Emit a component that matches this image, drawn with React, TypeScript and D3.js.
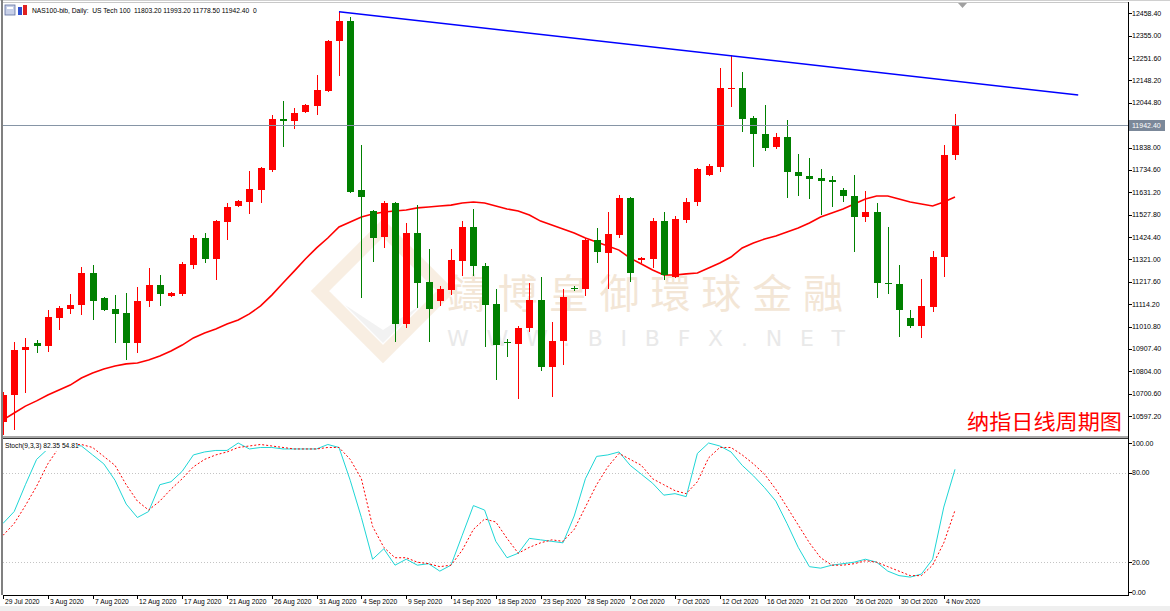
import React from "react";
import * as d3 from "d3";

// daily bars, 29 Jul 2020 .. 5 Nov 2020 (broker has Sunday bars)
const opens = [
  10569, 10694, 10902, 10935, 10921, 11050, 11092, 11110, 11258, 11143,
  11092, 11073, 10935, 11129, 11203, 11152, 11161, 11295, 11420, 11323,
  11494, 11568, 11586, 11642, 11734, 11970, 11961, 12002, 12030, 12099,
  12330, 12423, 11642, 11545, 11425, 11582, 11022, 11443, 11217, 11129,
  11180, 11314, 11471, 11290, 11115, 10939, 10930, 11004, 11133, 10824,
  10944, 11189, 11184, 11411, 11350, 11434, 11605, 11318, 11323, 11498,
  11240, 11503, 11586, 11711, 11748, 12109, 12113, 11975, 11901, 11841,
  11887, 11725, 11706, 11697, 11688, 11642, 11614, 11517, 11540, 11212,
  11207, 11050, 11013, 11101, 11332, 11803.2,
];
const highs = [
  10708, 10939, 10958, 10948, 11087, 11106, 11161, 11286, 11295, 11147,
  11156, 11166, 11193, 11281, 11249, 11170, 11309, 11434, 11443, 11503,
  11582, 11596, 11730, 11748, 11988, 12053, 12021, 12039, 12173, 12335,
  12466, 12441, 11850, 11549, 11591, 11586, 11489, 11572, 11369, 11198,
  11369, 11498, 11554, 11304, 11184, 10953, 11013, 11212, 11240, 11032,
  11184, 11198, 11420, 11466, 11540, 11619, 11609, 11332, 11512, 11540,
  11522, 11605, 11743, 11762, 12206, 12266, 12187, 11984, 12035, 11905,
  11965, 11808, 11789, 11739, 11706, 11651, 11711, 11637, 11582, 11471,
  11295, 11087, 11230, 11360, 11850, 11993.2,
];
const lows = [
  10509, 10532, 10703, 10888, 10893, 10995, 11069, 11064, 11041, 11082,
  10935, 10856, 10888, 11101, 11106, 11147, 11152, 11277, 11304, 11226,
  11411, 11563, 11531, 11582, 11725, 11841, 11924, 11998, 11988, 12095,
  12169, 11628, 11143, 11309, 11374, 10939, 11004, 11096, 10939, 11106,
  11156, 11244, 11244, 10916, 10764, 10870, 10676, 10985, 10805, 10685,
  10833, 11175, 11152, 11304, 11184, 11420, 11217, 11304, 11281, 11226,
  11235, 11489, 11568, 11706, 11725, 12025, 11910, 11748, 11822, 11831,
  11605, 11614, 11600, 11526, 11563, 11586, 11355, 11494, 11143, 11161,
  10962, 11004, 10958, 11078, 11240, 11778.5,
];
const closes = [
  10694, 10902, 10916, 10921, 11055, 11096, 11110, 11258, 11129, 11087,
  11069, 10935, 11129, 11203, 11161, 11166, 11300, 11420, 11323, 11498,
  11563, 11591, 11647, 11743, 11970, 11961, 11998, 12035, 12104, 12330,
  12423, 11633, 11609, 11420, 11582, 11022, 11443, 11212, 11092, 11184,
  11318, 11471, 11290, 11110, 10925, 10935, 11004, 11133, 10824, 10944,
  11147, 11184, 11411, 11355, 11438, 11605, 11258, 11327, 11498, 11249,
  11508, 11586, 11739, 11753, 12113, 12113, 11970, 11901, 11836, 11887,
  11725, 11706, 11693, 11683, 11679, 11614, 11517, 11540, 11212, 11207,
  11087, 11013, 11106, 11332, 11803, 11942.4,
];
const movingAvg = [
  10579, 10611, 10643, 10667, 10694, 10717, 10740, 10773, 10796, 10814,
  10828, 10838, 10842, 10856, 10875, 10898, 10925, 10958, 10981, 10999,
  11022, 11041, 11069, 11106, 11156, 11212, 11267, 11323, 11374, 11420,
  11471, 11494, 11517, 11531, 11540, 11545, 11549, 11559, 11563, 11568,
  11572, 11582, 11586, 11582, 11568, 11554, 11545, 11526, 11498, 11480,
  11462, 11443, 11420, 11401, 11383, 11364, 11327, 11300, 11272, 11249,
  11249, 11254, 11258, 11281, 11304, 11332, 11374, 11397, 11415, 11429,
  11448, 11466, 11489, 11517, 11535, 11554, 11577, 11600, 11614, 11614,
  11600, 11586, 11577, 11568, 11586, 11609,
];
const stochK = [
  46, 54, 72, 89, 96, 99, 99, 98, 92, 86,
  75, 59, 50, 54, 72, 74, 81, 92, 94, 95,
  95, 100, 96, 97, 97, 96, 96, 96, 96, 99,
  97, 75, 50, 22, 29, 18, 22, 18, 19, 14,
  18, 38, 58, 55, 34, 23, 26, 36, 35, 34,
  33, 51, 76, 91, 92, 94, 85, 79, 73, 65,
  66, 64, 93, 100, 98, 94, 85, 78, 70, 61,
  46, 30, 17, 16, 18, 19, 20, 22, 20, 14,
  11, 10, 12, 22, 57, 82.35,
];
const stochD = [
  38, 46, 58, 71, 86, 97, 99, 99, 97, 91,
  85, 72, 61, 55, 61, 69, 76, 84, 89, 92,
  94, 97, 98, 99, 98, 97, 96, 96, 96, 97,
  97, 89, 76, 44, 30, 23, 23, 20, 19, 17,
  18, 28, 42, 49, 47, 36, 26, 30, 33, 35,
  34, 42, 57, 72, 84, 93, 89, 85, 76, 72,
  68, 66, 74, 90, 97, 97, 92, 86, 79, 69,
  57, 45, 33, 23, 18, 18, 19, 21, 20, 17,
  14, 11, 11, 18, 33, 54.81,
];

// every 4th bar gets a date label
const dateLabels = [
  "29 Jul 2020", "3 Aug 2020", "7 Aug 2020", "12 Aug 2020", "17 Aug 2020",
  "21 Aug 2020", "26 Aug 2020", "31 Aug 2020", "4 Sep 2020", "9 Sep 2020",
  "14 Sep 2020", "18 Sep 2020", "23 Sep 2020", "28 Sep 2020", "2 Oct 2020",
  "7 Oct 2020", "12 Oct 2020", "16 Oct 2020", "21 Oct 2020", "26 Oct 2020",
  "30 Oct 2020", "4 Nov 2020",
];
const priceTicks = [
  12458.4, 12355.0, 12251.6, 12148.2, 12044.8, 11838.0, 11734.6, 11631.2,
  11527.8, 11424.4, 11321.0, 11217.6, 11114.2, 11010.8, 10907.4, 10804.0,
  10700.6, 10597.2,
];
const stochTicks = [100, 80, 20, 0];
const stochLevels = [80, 20];
// trend line anchors: [bar index, price]
const trendLine: [number, number][] = [
  [30, 12466],
  [96, 12081],
];
const lastPrice = 11942.4;
const header =
  "NAS100-bib, Daily:  US Tech 100  11803.20 11993.20 11778.50 11942.40  0";
const stochTitle = "Stoch(9,3,3) 82.35 54.81";
const caption = "纳指日线周期图";

const W = 1170;
const H = 611;
const plotL = 3;
const plotR = 1128;
const mainTop = 3;
const mainBottom = 436;
const subTop = 440;
const subBottom = 595;

const font = "'Liberation Sans', Arial, sans-serif";

export default function App() {
  const x = d3.scaleLinear().domain([0, 85]).range([3, 955]);
  const y = d3.scaleLinear().domain([10597.2, 12458.4]).range([416, 13.3]);
  const ys = d3.scaleLinear().domain([0, 100]).range([592, 443]);

  const maLine = d3
    .line<number>()
    .x((_, i) => x(i))
    .y((d) => y(d));
  const kLine = d3
    .line<number>()
    .x((_, i) => x(i))
    .y((d) => ys(d));

  const candles = opens.map((o, i) => ({
    o,
    h: highs[i],
    l: lows[i],
    c: closes[i],
  }));

  return (
    <svg
      width={W}
      height={H}
      style={{ position: "absolute", left: 0, top: 0, background: "#fff" }}
      fontFamily={font}
    >
      <defs>
        <clipPath id="mainClip">
          <rect x={plotL} y={mainTop} width={plotR - plotL} height={mainBottom - mainTop} />
        </clipPath>
        <clipPath id="subClip">
          <rect x={plotL} y={subTop} width={plotR - plotL} height={subBottom - subTop} />
        </clipPath>
      </defs>
      <rect x={0} y={0} width={W} height={H} fill="#fff" />
      <rect x={0} y={606} width={W} height={5} fill="#efefef" />

      {/* watermark */}
      <g clipPath="url(#mainClip)">
        <polygon
          points="383,228 446,291 383,354 320,291"
          fill="none"
          stroke="#f8eee2"
          strokeWidth={13}
        />
        <polygon points="345,305 383,343 421,305 383,330" fill="#f2f2f2" />
        <text
          x={447}
          y={308}
          fontSize={40}
          fill="#f3e6d6"
          fontFamily="'Noto Sans CJK TC', sans-serif"
          textLength={396}
          lengthAdjust="spacing"
        >
          鑄博皇御環球金融
        </text>
        <text
          x={447}
          y={346}
          fontSize={22}
          fill="#e9e9e9"
          fontFamily="'DejaVu Sans', sans-serif"
          textLength={398}
          lengthAdjust="spacing"
        >
          WWW.BIBFX.NET
        </text>
      </g>

      {/* main panel */}
      <g clipPath="url(#mainClip)">
        <path d={maLine(movingAvg) ?? ""} fill="none" stroke="#ff0000" strokeWidth={1.6} />
        {candles.map((d, i) => {
          const cx = Math.round(x(i));
          const up = d.c >= d.o;
          const col = up ? "#ff0000" : "#008000";
          const top = Math.round(y(Math.max(d.o, d.c)));
          const bot = Math.round(y(Math.min(d.o, d.c)));
          return (
            <g key={i} shapeRendering="crispEdges">
              <line
                x1={cx + 0.5}
                x2={cx + 0.5}
                y1={Math.round(y(d.h))}
                y2={Math.round(y(d.l))}
                stroke={col}
              />
              <rect x={cx - 3} y={top} width={7} height={Math.max(1, bot - top)} fill={col} />
            </g>
          );
        })}
        <line
          x1={x(trendLine[0][0])}
          y1={y(trendLine[0][1])}
          x2={x(trendLine[1][0])}
          y2={y(trendLine[1][1])}
          stroke="#0000ff"
          strokeWidth={1.5}
        />
        <line
          x1={plotL}
          x2={plotR}
          y1={Math.round(y(lastPrice)) + 0.5}
          y2={Math.round(y(lastPrice)) + 0.5}
          stroke="#8695a6"
          shapeRendering="crispEdges"
        />
      </g>

      {/* header */}
      <rect x={5} y={5} width={10} height={10} fill="#c8d0e8" stroke="#6070a0" strokeWidth={0.8} />
      <rect x={7} y={7} width={6} height={2} fill="#fff" />
      <rect x={18} y={7} width={4} height={8} fill="#3050d0" />
      <rect x={23} y={5} width={4} height={10} fill="#e02020" />
      <text x={32} y={13} fontSize={6.7} fill="#000" style={{ whiteSpace: "pre" }}>
        {header}
      </text>

      {/* chart shift marker */}
      <polygon points="958,3 967,3 962.5,8" fill="#a0a0a0" />

      {/* caption */}
      <text
        x={967}
        y={429}
        fontSize={21}
        fill="#ff0000"
        fontFamily="'Noto Sans CJK SC', sans-serif"
        textLength={155}
        lengthAdjust="spacingAndGlyphs"
      >
        {caption}
      </text>

      {/* stochastic panel */}
      <g clipPath="url(#subClip)">
        {stochLevels.map((v) => (
          <line
            key={v}
            x1={plotL}
            x2={plotR}
            y1={Math.round(ys(v)) + 0.5}
            y2={Math.round(ys(v)) + 0.5}
            stroke="#c4c4c4"
            strokeDasharray="1,2"
            shapeRendering="crispEdges"
          />
        ))}
        <path d={kLine(stochK) ?? ""} fill="none" stroke="#1fd6d6" strokeWidth={1} />
        <path
          d={kLine(stochD) ?? ""}
          fill="none"
          stroke="#ff0000"
          strokeWidth={1}
          strokeDasharray="2,2"
        />
        <rect x={plotL} y={441} width={75} height={10} fill="#fff" />
        <text x={5} y={448} fontSize={6.7} fill="#000">
          {stochTitle}
        </text>
      </g>

      {/* frame */}
      <g shapeRendering="crispEdges">
        <line x1={0} x2={W} y1={0.5} y2={0.5} stroke="#d0d0d0" />
        <line x1={1.5} x2={1.5} y1={0} y2={subBottom} stroke="#808080" strokeWidth={2} />
        <line x1={plotL} x2={plotR} y1={2.5} y2={2.5} stroke="#c8c8c8" />
        <rect x={plotL} y={436} width={plotR - plotL} height={2} fill="#a8a8a8" />
        <line x1={plotL} x2={plotR + 1} y1={438.5} y2={438.5} stroke="#333" />
        <line x1={plotL} x2={plotR + 1} y1={subBottom + 0.5} y2={subBottom + 0.5} stroke="#000" />
        <line x1={plotR + 0.5} x2={plotR + 0.5} y1={2} y2={subBottom} stroke="#000" />
      </g>

      {/* price axis */}
      <g fontSize={7} fill="#000">
        {priceTicks.map((p) => (
          <g key={p}>
            <line
              x1={plotR}
              x2={plotR + 4}
              y1={Math.round(y(p)) + 0.5}
              y2={Math.round(y(p)) + 0.5}
              stroke="#000"
              shapeRendering="crispEdges"
            />
            <text x={plotR + 4} y={y(p) + 2.5}>
              {d3.format(".2f")(p)}
            </text>
          </g>
        ))}
        <rect x={plotR + 1} y={Math.round(y(lastPrice)) - 5} width={36} height={11} fill="#7b8899" />
        <text x={plotR + 4} y={y(lastPrice) + 3} fill="#fff">
          {d3.format(".2f")(lastPrice)}
        </text>
        {stochTicks.map((v) => (
          <g key={v}>
            <line
              x1={plotR}
              x2={plotR + 4}
              y1={Math.round(ys(v)) + 0.5}
              y2={Math.round(ys(v)) + 0.5}
              stroke="#000"
              shapeRendering="crispEdges"
            />
            <text x={plotR + 4} y={ys(v) + 2.5}>
              {d3.format(".2f")(v)}
            </text>
          </g>
        ))}
      </g>

      {/* time axis */}
      <g fontSize={6.7} fill="#000">
        {dateLabels.map((lab, k) => {
          const tx = Math.round(x(k * 4));
          return (
            <g key={lab}>
              <line
                x1={tx + 0.5}
                x2={tx + 0.5}
                y1={subBottom}
                y2={subBottom + 4}
                stroke="#000"
                shapeRendering="crispEdges"
              />
              <text x={tx + 2} y={604}>
                {lab}
              </text>
            </g>
          );
        })}
      </g>
    </svg>
  );
}
